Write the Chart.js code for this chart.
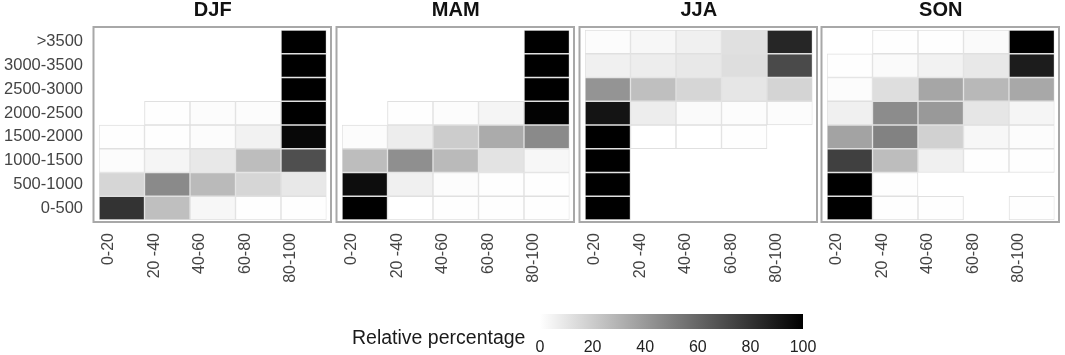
<!DOCTYPE html>
<html>
<head>
<meta charset="utf-8">
<script src="https://cdn.jsdelivr.net/npm/chart.js@4.4.0/dist/chart.umd.min.js"></script>
<style>
  body { margin: 0; background: #fff; width: 1065px; height: 355px; position: relative; overflow: hidden; font-family: "Liberation Sans", Arial, sans-serif; }
  canvas { position: absolute; top: 0; }
  #legendTitle { position: absolute; left: 352px; top: 326px; font-size: 19.5px; color: #1a1a1a; white-space: nowrap; }
</style>
</head>
<body>
<canvas id="djf" width="337" height="300" style="left:0px"></canvas>
<canvas id="mam" width="246" height="300" style="left:334px"></canvas>
<canvas id="jja" width="246" height="300" style="left:577px"></canvas>
<canvas id="son" width="246" height="300" style="left:819px"></canvas>
<div id="legendTitle">Relative percentage</div>
<canvas id="legend" width="310" height="55" style="left:520px; top:300px"></canvas>

<script>
const seasons = ['DJF', 'MAM', 'JJA', 'SON'];
// rows listed top to bottom, as they read in the picture
const heightBins = ['>3500', '3000-3500', '2500-3000', '2000-2500', '1500-2000', '1000-1500', '500-1000', '0-500'];
const ratioBins = ['0-20', '20 -40', '40-60', '60-80', '80-100'];
const legendTicks = [0, 20, 40, 60, 80, 100];

// relative percentage per cell, null = no cell
const djf = [
    [null, null, null, null, 100],
    [null, null, null, null, 100],
    [null, null, null, null, 100],
    [null, 0.5, 1, 1, 100],
    [0.5, 0.5, 1, 5, 97],
    [1, 4, 9, 26, 69],
    [16, 46, 27, 16, 9],
    [80, 25, 3, 0.5, 0.5]
];
const mam = [
    [null, null, null, null, 100],
    [null, null, null, null, 100],
    [null, null, null, null, 100],
    [null, 0.5, 1, 4, 99],
    [1, 7, 20, 33, 46],
    [26, 44, 27, 11, 3],
    [95, 6, 1, 0.5, 0.5],
    [100, 0, 0.5, 0.5, 0.5]
];
const jja = [
    [1, 3, 6, 12, 85],
    [6, 7, 9, 13, 71],
    [42, 25, 16, 10, 17],
    [92, 7, 2, 1, 1],
    [100, 0, 0, 0.5, null],
    [100, null, null, null, null],
    [100, null, null, null, null],
    [100, null, null, null, null]
];
const son = [
    [null, 0.5, 0.5, 2, 100],
    [0.5, 2, 5, 9, 89],
    [1, 13, 35, 28, 34],
    [6, 45, 40, 10, 4],
    [36, 49, 18, 3, 1],
    [75, 26, 6, 0.5, 0.5],
    [100, 0.5, null, null, null],
    [100, 0.5, 0.5, null, 0.5]
];
const seasonValues = [djf, mam, jja, son];
const canvasIds = ['djf', 'mam', 'jja', 'son'];

const fontFamily = '"Liberation Sans", Arial, sans-serif';

function shade(v) {
    const g = Math.round(255 * (1 - v / 100));
    return 'rgb(' + g + ',' + g + ',' + g + ')';
}

function makeDatasets(values) {
    return heightBins.map((bin, r) => {
        const y0 = heightBins.length - 1 - r;
        return {
            label: bin,
            data: values[r].map(v => v === null ? null : [y0, y0 + 1]),
            backgroundColor: values[r].map(v => v === null ? 'rgba(0,0,0,0)' : shade(v)),
            borderColor: '#e0e0e0',
            borderWidth: 1,
            borderSkipped: false,
            grouped: false,
            barPercentage: 1,
            categoryPercentage: 1
        };
    });
}

// gray frame around each panel
const panelBorder = {
    id: 'panelBorder',
    afterDraw(chart) {
        const a = chart.chartArea;
        const ctx = chart.ctx;
        ctx.save();
        ctx.strokeStyle = '#a8a8a8';
        ctx.lineWidth = 2;
        ctx.strokeRect(a.left - 5.5, a.top - 3, a.right - a.left + 10, a.bottom - a.top + 5);
        ctx.restore();
    }
};

seasons.forEach((season, i) => {
    const first = i === 0;
    new Chart(document.getElementById(canvasIds[i]), {
        type: 'bar',
        data: { labels: ratioBins, datasets: makeDatasets(seasonValues[i]) },
        options: {
            responsive: false,
            animation: false,
            layout: { padding: { left: first ? 0 : 8, right: 8, top: 0, bottom: 0 } },
            plugins: {
                legend: { display: false },
                tooltip: { enabled: false },
                title: {
                    display: true,
                    fullSize: false,
                    text: season,
                    color: '#111',
                    font: { size: 20, weight: 'bold', family: fontFamily, lineHeight: 1 },
                    padding: { top: 0, bottom: 10 }
                }
            },
            scales: {
                x: {
                    grid: { display: false, drawTicks: false },
                    border: { display: false },
                    ticks: {
                        autoSkip: false,
                        minRotation: 90,
                        maxRotation: 90,
                        padding: 13,
                        labelOffset: -13,
                        color: '#444',
                        font: { size: 16, family: fontFamily }
                    },
                    afterFit: s => { s.height = 80; }
                },
                y: {
                    type: 'linear',
                    min: 0,
                    max: heightBins.length,
                    display: first,
                    grid: { display: false, drawTicks: false },
                    border: { display: false },
                    afterBuildTicks: s => {
                        s.ticks = heightBins.map((_, k) => ({ value: k + 0.5 }));
                    },
                    ticks: {
                        padding: 16,
                        color: '#444',
                        font: { size: 16.5, family: fontFamily },
                        callback: v => heightBins[heightBins.length - 1 - Math.floor(v)]
                    },
                    afterFit: s => { s.width = first ? 99 : 0; }
                }
            }
        },
        plugins: [panelBorder]
    });
});

// colour bar
new Chart(document.getElementById('legend'), {
    type: 'bar',
    data: {
        labels: [''],
        datasets: [{
            data: [[legendTicks[0], legendTicks[legendTicks.length - 1]]],
            backgroundColor: ctx => {
                const area = ctx.chart.chartArea;
                if (!area) return '#888';
                const g = ctx.chart.ctx.createLinearGradient(area.left, 0, area.right, 0);
                g.addColorStop(0, shade(0));
                g.addColorStop(1, shade(100));
                return g;
            },
            borderWidth: 0,
            barPercentage: 1,
            categoryPercentage: 1
        }]
    },
    options: {
        indexAxis: 'y',
        responsive: false,
        animation: false,
        layout: { padding: { left: 20, right: 27, top: 14, bottom: 0 } },
        plugins: { legend: { display: false }, tooltip: { enabled: false } },
        scales: {
            x: {
                type: 'linear',
                min: 0,
                max: 100,
                z: 1,
                afterBuildTicks: s => { s.ticks = legendTicks.map(v => ({ value: v })); },
                grid: {
                    drawTicks: false,
                    lineWidth: 1,
                    color: c => (c.tick && (c.tick.value === 0 || c.tick.value === 100)) ? 'rgba(0,0,0,0)' : '#fff'
                },
                border: { display: false },
                ticks: { padding: 9, color: '#222', font: { size: 16, family: fontFamily } },
                afterFit: s => { s.height = 26; }
            },
            y: { display: false }
        }
    }
});
</script>
</body>
</html>
